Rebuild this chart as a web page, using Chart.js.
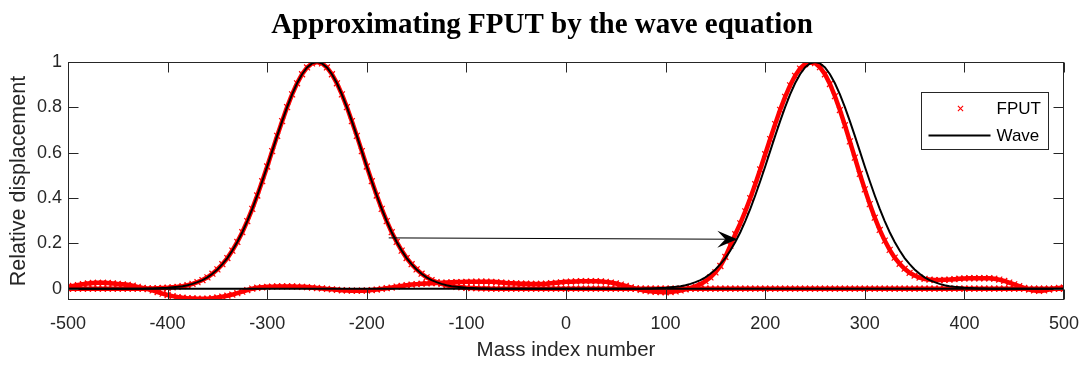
<!DOCTYPE html>
<html>
<head>
<meta charset="utf-8">
<script src="https://cdn.jsdelivr.net/npm/chart.js@4/dist/chart.umd.min.js"></script>
<style>
  html, body { margin: 0; padding: 0; background: #ffffff; }
  #wrap { width: 1084px; height: 365px; position: relative; }
</style>
</head>
<body>
<div id="wrap"><canvas id="c" width="1084" height="365"></canvas></div>
<script>
// ---------------- data ----------------
const chartTitle = 'Approximating FPUT by the wave equation';
const xAxisLabel = 'Mass index number';
const yAxisLabel = 'Relative displacement';
const seriesNames = ['FPUT', 'Wave'];

const massMin = -500;
const massMax = 500;
const massStep = 5;

const xTickValues = [-500, -400, -300, -200, -100, 0, 100, 200, 300, 400, 500];
const yTickValues = [0, 0.2, 0.4, 0.6, 0.8, 1];
const yTickLabels = ['0', '0.2', '0.4', '0.6', '0.8', '1'];

// initial pulse profile (read every 5 masses), centred at -250
const pulseStartInitial = -420;
// the same pulse carried by the wave equation, centred at +250
const pulseStartWave = 80;
const pulseProfile = [
  0.001, 0.001, 0.002, 0.003, 0.004, 0.006, 0.008, 0.011, 0.015, 0.021,
  0.029, 0.038, 0.050, 0.066, 0.085, 0.108, 0.135, 0.168, 0.206, 0.249,
  0.298, 0.352, 0.411, 0.474, 0.539, 0.607, 0.674, 0.739, 0.801, 0.857,
  0.906, 0.946, 0.976, 0.994, 1.000,
  0.994, 0.976, 0.946, 0.906, 0.857, 0.801, 0.739, 0.674, 0.607, 0.539,
  0.474, 0.411, 0.352, 0.298, 0.249, 0.206, 0.168, 0.135, 0.108, 0.085,
  0.066, 0.050, 0.038, 0.029, 0.021, 0.015, 0.011, 0.008, 0.006, 0.004,
  0.003, 0.002, 0.001, 0.001
];

// FPUT displacement at the later time, every 5 masses from -500 to 500
const fputLater = [
  0.008, 0.012, 0.016, 0.020, 0.023, 0.025, 0.026, 0.026, 0.025, 0.023, 0.021, 0.019, 0.017, 0.013, 0.008, 0.003, -0.002, -0.008, -0.015, -0.022,
  -0.028, -0.033, -0.037, -0.040, -0.042, -0.043, -0.044, -0.045, -0.044, -0.042, -0.039, -0.035, -0.031, -0.026, -0.020, -0.013, -0.006, 0.000, 0.004, 0.006,
  0.008, 0.009, 0.010, 0.010, 0.010, 0.010, 0.009, 0.008, 0.007, 0.005, 0.003, 0.001, -0.001, -0.003, -0.005, -0.007, -0.008, -0.009, -0.009, -0.009,
  -0.008, -0.006, -0.004, -0.001, 0.002, 0.005, 0.009, 0.012, 0.015, 0.018, 0.020, 0.022, 0.023, 0.024, 0.025, 0.026, 0.027, 0.028, 0.029, 0.029,
  0.030, 0.030, 0.031, 0.031, 0.031, 0.030, 0.029, 0.027, 0.025, 0.024, 0.023, 0.022, 0.022, 0.021, 0.021, 0.021, 0.022, 0.024, 0.026, 0.028,
  0.030, 0.031, 0.032, 0.033, 0.033, 0.033, 0.033, 0.032, 0.030, 0.027, 0.023, 0.018, 0.012, 0.006, 0.000, -0.005, -0.009, -0.012, -0.014, -0.015,
  -0.016, -0.015, -0.012, -0.008, -0.003, 0.003, 0.010, 0.020, 0.033, 0.050, 0.072, 0.100, 0.140, 0.190, 0.240, 0.288, 0.341, 0.399, 0.461, 0.526,
  0.593, 0.660, 0.726, 0.789, 0.846, 0.897, 0.939, 0.971, 0.991, 0.998, 0.995, 0.977, 0.946, 0.903, 0.849, 0.788, 0.721, 0.650, 0.578, 0.506,
  0.438, 0.373, 0.313, 0.259, 0.212, 0.171, 0.137, 0.110, 0.088, 0.070, 0.058, 0.049, 0.043, 0.040, 0.038, 0.038, 0.039, 0.040, 0.042, 0.044,
  0.045, 0.046, 0.046, 0.046, 0.046, 0.046, 0.044, 0.040, 0.034, 0.027, 0.019, 0.011, 0.003, -0.004, -0.008, -0.010, -0.008, -0.004, 0.000, 0.003,
  0.005
];

// annotation arrow (data units): from the initial pulse to the propagated pulse
const arrowFrom = [-178, 0.224];
const arrowTo = [172, 0.218];

// ---------------- build series ----------------
const massIndex = [];
for (let m = massMin; m <= massMax; m += massStep) massIndex.push(m);

function pulseAt(m, start) {
  const k = (m - start) / massStep;
  return (k >= 0 && k < pulseProfile.length) ? pulseProfile[k] : 0;
}
const fputInitialPts = massIndex.map(m => ({ x: m, y: pulseAt(m, pulseStartInitial) }));
const waveInitialPts = massIndex.map(m => ({ x: m, y: pulseAt(m, pulseStartInitial) }));
const waveLaterPts = massIndex.map(m => ({ x: m, y: pulseAt(m, pulseStartWave) }));
const fputLaterPts = massIndex.map((m, i) => ({ x: m, y: fputLater[i] }));

// ---------------- styles ----------------
const axisColor = '#262626';
const sansFamily = '"Liberation Sans", Arial, Helvetica, sans-serif';
const serifFamily = '"Liberation Serif", "Times New Roman", serif';
const red = '#ff0000';

function fputStyle(points) {
  return {
    label: seriesNames[0], data: points, showLine: true,
    borderColor: red, borderWidth: 4.5,
    pointStyle: 'crossRot', pointRadius: 4.2, pointBorderWidth: 1.2,
    pointBorderColor: red, pointBackgroundColor: red,
    pointHoverRadius: 4.2
  };
}
function waveStyle(points) {
  return {
    label: seriesNames[1], data: points, showLine: true,
    borderColor: '#000000', borderWidth: 2, pointRadius: 0, pointHoverRadius: 0
  };
}

// ---------------- title / frame / ticks / arrow / legend plugin ----------------
const framePlugin = {
  id: 'matlabFrame',
  afterDatasetsDraw(chart) {
    const { ctx, chartArea: a, scales: { x, y } } = chart;
    ctx.save();

    // title, centred on the figure
    ctx.fillStyle = '#000000';
    ctx.font = 'bold 29px ' + serifFamily;
    ctx.textAlign = 'center'; ctx.textBaseline = 'alphabetic';
    ctx.fillText(chartTitle, chart.width / 2, 33);

    // arrow
    const x0 = x.getPixelForValue(arrowFrom[0]), y0 = y.getPixelForValue(arrowFrom[1]);
    const x1 = x.getPixelForValue(arrowTo[0]), y1 = y.getPixelForValue(arrowTo[1]);
    const ang = Math.atan2(y1 - y0, x1 - x0);
    const c = Math.cos(ang), s = Math.sin(ang);
    const L = 20, W = 8.5, N = 12;
    const pt = (back, side) => [x1 - back * c - side * s, y1 - back * s + side * c];
    ctx.strokeStyle = '#000'; ctx.lineWidth = 1;
    ctx.beginPath(); ctx.moveTo(x0, y0);
    const pn = pt(N, 0); ctx.lineTo(pn[0], pn[1]); ctx.stroke();
    ctx.beginPath(); ctx.moveTo(x1, y1);
    let p = pt(L, W); ctx.lineTo(p[0], p[1]);
    ctx.lineTo(pn[0], pn[1]);
    p = pt(L, -W); ctx.lineTo(p[0], p[1]);
    ctx.closePath(); ctx.fillStyle = '#000'; ctx.fill();

    // frame box
    const L0 = Math.round(a.left) + 0.5, R0 = Math.round(a.right) - 0.5;
    const T0 = Math.round(a.top) + 0.5, B0 = Math.round(a.bottom) - 0.5;
    ctx.strokeStyle = axisColor; ctx.lineWidth = 1;
    ctx.strokeRect(L0, T0, R0 - L0, B0 - T0);

    // inward ticks
    const tl = 10;
    ctx.beginPath();
    xTickValues.forEach(v => {
      const px = Math.round(x.getPixelForValue(v)) + 0.5;
      ctx.moveTo(px, B0); ctx.lineTo(px, B0 - tl);
      ctx.moveTo(px, T0); ctx.lineTo(px, T0 + tl);
    });
    yTickValues.forEach(v => {
      const py = Math.round(y.getPixelForValue(v)) + 0.5;
      ctx.moveTo(L0, py); ctx.lineTo(L0 + tl, py);
      ctx.moveTo(R0, py); ctx.lineTo(R0 - tl, py);
    });
    ctx.stroke();

    // legend
    const lw = 127, lh = 57;
    const lx = Math.round(a.right - 16 - lw) + 0.5, ly = Math.round(a.top + 30) + 0.5;
    ctx.fillStyle = '#ffffff';
    ctx.fillRect(lx, ly, lw, lh);
    ctx.strokeStyle = axisColor; ctx.lineWidth = 1;
    ctx.strokeRect(lx, ly, lw, lh);
    const row1 = ly + 16, row2 = ly + 43;
    const mx = lx + 39, r = 2.6;
    ctx.strokeStyle = red; ctx.lineWidth = 1.1;
    ctx.beginPath();
    ctx.moveTo(mx - r, row1 - r); ctx.lineTo(mx + r, row1 + r);
    ctx.moveTo(mx - r, row1 + r); ctx.lineTo(mx + r, row1 - r);
    ctx.stroke();
    ctx.strokeStyle = '#000'; ctx.lineWidth = 2;
    ctx.beginPath(); ctx.moveTo(lx + 7, row2); ctx.lineTo(lx + 69, row2); ctx.stroke();
    ctx.fillStyle = '#000';
    ctx.font = '17px ' + sansFamily;
    ctx.textAlign = 'left'; ctx.textBaseline = 'middle';
    ctx.fillText(seriesNames[0], lx + 75, row1 + 1);
    ctx.fillText(seriesNames[1], lx + 75, row2 + 1);

    ctx.restore();
  }
};

// ---------------- chart ----------------
new Chart(document.getElementById('c').getContext('2d'), {
  type: 'scatter',
  data: {
    datasets: [
      waveStyle(waveInitialPts),
      waveStyle(waveLaterPts),
      fputStyle(fputInitialPts),
      fputStyle(fputLaterPts)
    ]
  },
  options: {
    responsive: false,
    animation: false,
    devicePixelRatio: 1,
    events: [],
    layout: { padding: { left: 0, right: 20, top: 62, bottom: 0 } },
    plugins: {
      legend: { display: false },
      tooltip: { enabled: false },
      title: { display: false }
    },
    scales: {
      x: {
        type: 'linear', min: massMin, max: massMax,
        afterBuildTicks: sc => { sc.ticks = xTickValues.map(v => ({ value: v })); },
        ticks: {
          color: axisColor, font: { family: sansFamily, size: 18 },
          padding: 13, maxRotation: 0, autoSkip: false,
          callback: v => String(v)
        },
        grid: { display: false, drawTicks: false },
        border: { display: false },
        title: {
          display: true, text: xAxisLabel, color: axisColor,
          font: { family: sansFamily, size: 20.5 }, padding: { top: 0, bottom: 2 }
        },
        afterFit: sc => { sc.height = 65; sc.paddingLeft = 0; sc.paddingRight = 0; }
      },
      y: {
        type: 'linear', min: -0.05, max: 1,
        afterBuildTicks: sc => { sc.ticks = yTickValues.map(v => ({ value: v })); },
        ticks: {
          color: axisColor, font: { family: sansFamily, size: 18 },
          padding: 6, autoSkip: false,
          callback: (v) => { const i = yTickValues.indexOf(v); return i >= 0 ? yTickLabels[i] : ''; }
        },
        grid: { display: false, drawTicks: false },
        border: { display: false },
        title: {
          display: true, text: yAxisLabel, color: axisColor,
          font: { family: sansFamily, size: 21.5 }, padding: { top: 6, bottom: 0 }
        },
        afterFit: sc => { sc.width = 68; sc.paddingTop = 0; sc.paddingBottom = 0; }
      }
    }
  },
  plugins: [framePlugin]
});
</script>
</body>
</html>
